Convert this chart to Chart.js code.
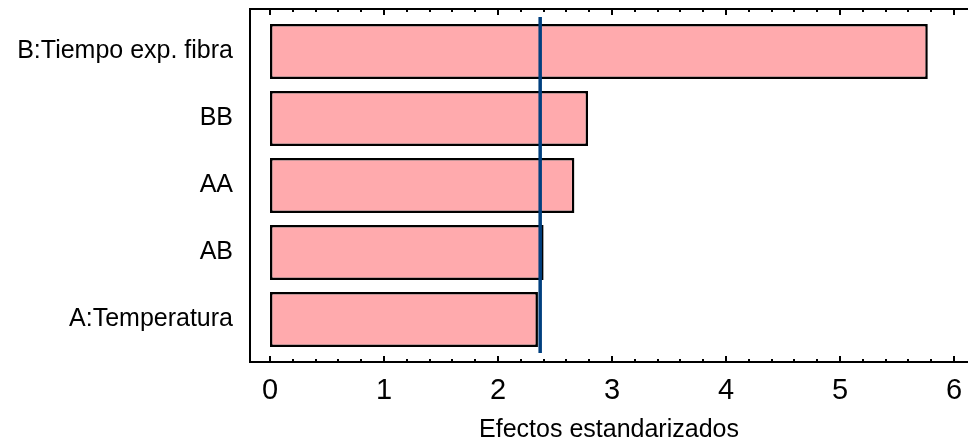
<!DOCTYPE html>
<html>
<head>
<meta charset="utf-8">
<script src="https://cdn.jsdelivr.net/npm/chart.js@4.4.1/dist/chart.umd.min.js"></script>
<style>
  html, body { margin: 0; padding: 0; background: #ffffff; }
  #wrap { width: 969px; height: 446px; }
</style>
</head>
<body>
<div id="wrap"><canvas id="paretoChart" width="969" height="446"></canvas></div>
<script>
// effects, top to bottom
var labels = ['B:Tiempo exp. fibra', 'BB', 'AA', 'AB', 'A:Temperatura'];
var effects = [5.77, 2.79, 2.67, 2.40, 2.35];
var criticalValue = 2.37;
var xTicks = [0, 1, 2, 3, 4, 5, 6];
var minorStep = 0.2;

var fontFamily = '"Liberation Sans", Arial, Helvetica, sans-serif';

// frame + inner tick marks + significance line
var paretoDecor = {
    id: 'paretoDecor',
    afterDatasetsDraw: function(chart) {
        var ctx = chart.ctx;
        var area = chart.chartArea;
        var x = chart.scales.x;
        var top = area.top - 9;
        var bottom = area.bottom + 9;

        ctx.save();
        // critical value line
        var cx = x.getPixelForValue(criticalValue);
        ctx.strokeStyle = '#003f7f';
        ctx.lineWidth = 3.5;
        ctx.beginPath();
        ctx.moveTo(cx, area.top - 1);
        ctx.lineTo(cx, area.bottom);
        ctx.stroke();

        // frame: left, top, bottom
        ctx.strokeStyle = '#000000';
        ctx.lineWidth = 2;
        ctx.beginPath();
        ctx.moveTo(area.right, top);
        ctx.lineTo(area.left, top);
        ctx.lineTo(area.left, bottom);
        ctx.lineTo(area.right, bottom);
        ctx.stroke();

        // tick marks pointing inward
        var first = xTicks[0], last = xTicks[xTicks.length - 1];
        var n = Math.round((last - first) / minorStep);
        ctx.beginPath();
        for (var i = 0; i <= n; i++) {
            var v = first + i * minorStep;
            var px = Math.round(x.getPixelForValue(v));
            var major = Math.abs(v - Math.round(v)) < 1e-6;
            var len = major ? 6 : 3;
            ctx.moveTo(px, top);
            ctx.lineTo(px, top + len);
            ctx.moveTo(px, bottom);
            ctx.lineTo(px, bottom - len);
        }
        ctx.stroke();
        ctx.restore();
    }
};

function noPad(scale) {
    scale.paddingLeft = 0;
    scale.paddingRight = 0;
    scale.paddingTop = 0;
    scale.paddingBottom = 0;
}

new Chart(document.getElementById('paretoChart'), {
    type: 'bar',
    data: {
        labels: labels,
        datasets: [{
            label: 'Efectos estandarizados',
            data: effects,
            backgroundColor: '#ffaaad',
            borderColor: '#000000',
            borderWidth: 2.5,
            borderSkipped: false,
            barPercentage: 0.82,
            categoryPercentage: 1.0
        }]
    },
    options: {
        indexAxis: 'y',
        responsive: false,
        animation: false,
        devicePixelRatio: 1,
        layout: { padding: { top: 18, right: 1, bottom: 0, left: 0 } },
        plugins: {
            legend: { display: false },
            tooltip: { enabled: false }
        },
        scales: {
            x: {
                type: 'linear',
                min: -0.1754,
                max: 6.1228,
                afterBuildTicks: function(scale) {
                    scale.ticks = xTicks.map(function(v) { return { value: v }; });
                },
                afterFit: function(scale) { scale.height = 93; noPad(scale); },
                grid: { display: false, drawTicks: false },
                border: { display: false },
                ticks: {
                    padding: 21,
                    color: '#000000',
                    font: { family: fontFamily, size: 29 },
                    maxRotation: 0,
                    autoSkip: false
                },
                title: {
                    display: true,
                    text: 'Efectos estandarizados',
                    color: '#000000',
                    font: { family: fontFamily, size: 25 },
                    padding: { top: 0, bottom: 1 }
                }
            },
            y: {
                afterFit: function(scale) { scale.width = 250; noPad(scale); },
                grid: { display: false, drawTicks: false },
                border: { display: false },
                ticks: {
                    padding: 17,
                    color: '#000000',
                    font: { family: fontFamily, size: 25 }
                }
            }
        }
    },
    plugins: [paretoDecor]
});
</script>
</body>
</html>
